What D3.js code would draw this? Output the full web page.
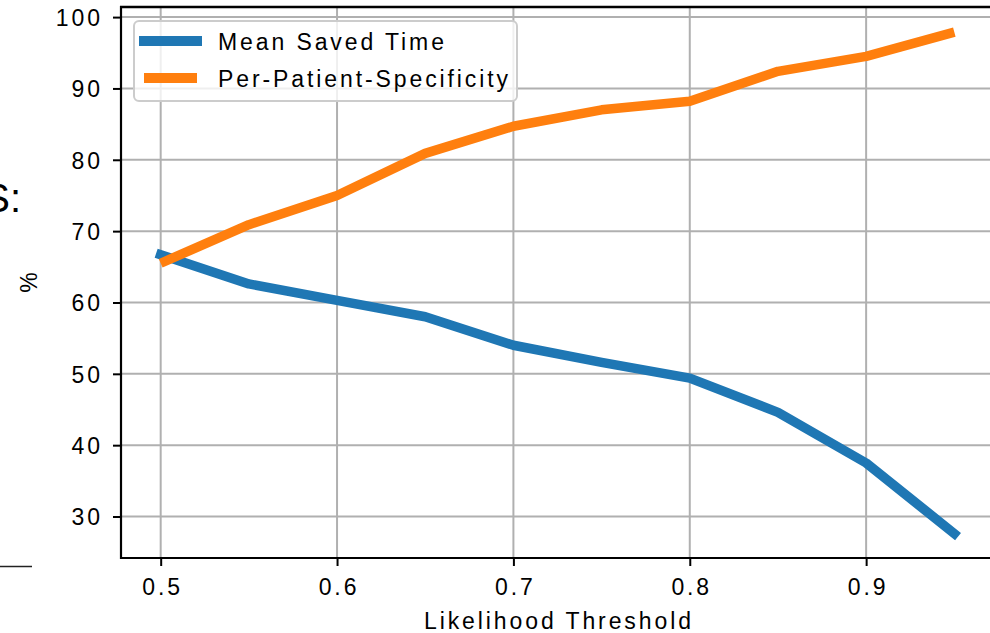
<!DOCTYPE html>
<html>
<head>
<meta charset="utf-8">
<script src="https://d3js.org/d3.v7.min.js"></script>
<style>
  body { margin: 0; background: #fff; }
  text { font-family: "Liberation Sans", Arial, sans-serif; fill: #000; }
</style>
</head>
<body>
<div id="vis"></div>
<script>
const W = 990, H = 633;
const margin = {top: 7, right: -4, bottom: 75, left: 121};
const width = W - margin.left - margin.right;
const height = H - margin.top - margin.bottom;

const thresholds = [0.5, 0.55, 0.6, 0.65, 0.7, 0.75, 0.8, 0.85, 0.9, 0.95];
const meanSavedTime = [66.7, 62.6, 60.3, 58.0, 54.0, 51.6, 49.4, 44.6, 37.5, 27.6];
const perPatientSpec = [65.5, 70.9, 75.0, 80.9, 84.7, 87.0, 88.2, 92.4, 94.5, 97.9];
const xTicks = [0.5, 0.6, 0.7, 0.8, 0.9];
const yTicks = [30, 40, 50, 60, 70, 80, 90, 100];
const seriesNames = ["Mean Saved Time", "Per-Patient-Specificity"];
const colors = ["#1f77b4", "#ff7f0e"];

const fs = 23, ls = 2.9; // font size, letter spacing

const svg = d3.select('#vis')
    .append('svg')
    .attr('width', W)
    .attr('height', H);

// bits of the neighbouring figure that got cropped in
svg.append("text")
    .attr("x", 21).attr("y", 212)
    .attr("text-anchor", "end")
    .style("font-size", "40px")
    .text("S:");
svg.append("line")
    .attr("x1", 0).attr("x2", 32)
    .attr("y1", 566.5).attr("y2", 566.5)
    .attr("stroke", "#222").attr("stroke-width", 1.5);

const g = svg.append('g')
    .attr('transform', `translate(${margin.left},${margin.top})`);

// matplotlib-like 5% padding
const xPad = (d3.max(thresholds) - d3.min(thresholds)) * 0.05;
const x = d3.scaleLinear()
    .domain([d3.min(thresholds) - xPad, d3.max(thresholds) + xPad])
    .range([0, width]);

const allVals = meanSavedTime.concat(perPatientSpec);
const yPad = (d3.max(allVals) - d3.min(allVals)) * 0.05;
const y = d3.scaleLinear()
    .domain([d3.min(allVals) - yPad + 0.1, d3.max(allVals) + yPad])
    .range([height, 0]);

// grid
g.selectAll(".hgrid")
    .data(yTicks)
    .enter().append("line")
    .attr("x1", 0).attr("x2", width)
    .attr("y1", d => y(d)).attr("y2", d => y(d))
    .attr("stroke", "#b0b0b0").attr("stroke-width", 2);
g.selectAll(".vgrid")
    .data(xTicks)
    .enter().append("line")
    .attr("x1", d => x(d)).attr("x2", d => x(d))
    .attr("y1", 0).attr("y2", height)
    .attr("stroke", "#b0b0b0").attr("stroke-width", 2);

// lines
const line = d3.line()
    .x((d, i) => x(thresholds[i]))
    .y(d => y(d));

[meanSavedTime, perPatientSpec].forEach((vals, i) => {
    g.append("path")
        .datum(vals)
        .attr("d", line)
        .attr("fill", "none")
        .attr("stroke", colors[i])
        .attr("stroke-width", 9.5)
        .attr("stroke-linejoin", "round")
        .attr("stroke-linecap", i == 0 ? "square" : "butt");
});

// spines
g.append("line").attr("x1", 0).attr("x2", 0).attr("y1", -1).attr("y2", height + 1)
    .attr("stroke", "#000").attr("stroke-width", 2.2);
g.append("line").attr("x1", -1).attr("x2", width).attr("y1", height).attr("y2", height)
    .attr("stroke", "#000").attr("stroke-width", 2.2);
g.append("line").attr("x1", -1).attr("x2", width).attr("y1", 0).attr("y2", 0)
    .attr("stroke", "#000").attr("stroke-width", 2.5);

// axes
const xAxis = g.append("g")
    .attr("transform", `translate(0,${height})`)
    .call(d3.axisBottom(x).tickValues(xTicks).tickFormat(d3.format(".1f")).tickSizeOuter(0).tickSize(8).tickPadding(13));
const yAxis = g.append("g")
    .call(d3.axisLeft(y).tickValues(yTicks).tickSizeOuter(0).tickSize(8).tickPadding(13));

[xAxis, yAxis].forEach(ax => {
    ax.select(".domain").remove();
    ax.selectAll(".tick line").attr("stroke", "#000").attr("stroke-width", 2);
    ax.selectAll(".tick text")
        .style("font-size", fs + "px")
        .style("letter-spacing", ls + "px")
        .attr("fill", "#000");
});
xAxis.selectAll(".tick text").attr("dx", ls / 2);
yAxis.selectAll(".tick text").attr("dx", ls).attr("dy", "0.36em");

// axis labels
svg.append("text")
    .attr("x", margin.left + width / 2 + ls / 2)
    .attr("y", 629)
    .attr("text-anchor", "middle")
    .style("font-size", fs + "px")
    .style("letter-spacing", ls + "px")
    .text("Likelihood Threshold");
svg.append("text")
    .attr("transform", `translate(37,${margin.top + height / 2}) rotate(-90)`)
    .attr("text-anchor", "middle")
    .style("font-size", fs + "px")
    .text("%");

// legend
const legend = svg.append("g").attr("transform", "translate(133,20)");
legend.append("rect")
    .attr("x", 1).attr("y", 1)
    .attr("width", 383).attr("height", 80)
    .attr("rx", 5)
    .attr("fill", "#fff").attr("fill-opacity", 0.8)
    .attr("stroke", "#cccccc").attr("stroke-width", 2);

const legendItems = legend.selectAll(".legend-item")
    .data(seriesNames)
    .enter().append("g")
    .attr("class", "legend-item")
    .attr("transform", (d, i) => `translate(0, ${21 + i * 37})`);

legendItems.append("line")
    .attr("x1", 11).attr("x2", 64)
    .attr("y1", 0).attr("y2", 0)
    .attr("stroke", (d, i) => colors[i])
    .attr("stroke-width", 10)
    .attr("stroke-linecap", (d, i) => i == 0 ? "square" : "butt");

legendItems.append("text")
    .attr("x", 85)
    .attr("y", 8.5)
    .style("font-size", fs + "px")
    .style("letter-spacing", ls + "px")
    .text(d => d);
</script>
</body>
</html>
